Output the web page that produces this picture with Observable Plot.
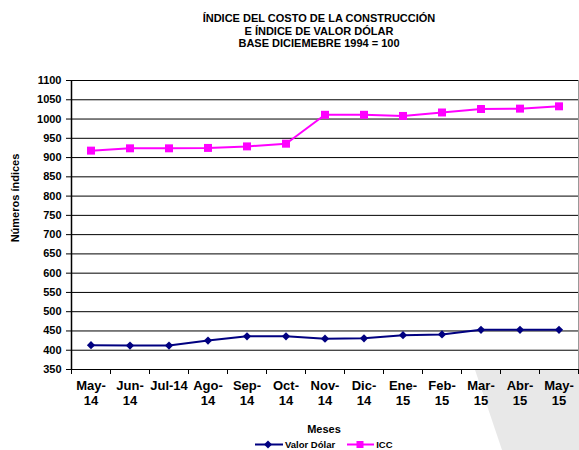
<!DOCTYPE html>
<html>
<head>
<meta charset="utf-8">
<script src="https://cdn.jsdelivr.net/npm/d3@7"></script>
<script src="https://cdn.jsdelivr.net/npm/@observablehq/plot@0.6"></script>
<style>
  body { margin: 0; background: white; font-family: "Liberation Sans", Arial, sans-serif; font-weight: bold; }
  #wrap { position: relative; width: 579px; height: 450px; overflow: hidden; }
  #bg { position: absolute; left: 0; top: 0; z-index: 0; }
  #chart { position: absolute; left: 0; top: 0; z-index: 1; }
  .t { position: absolute; white-space: nowrap; color: #000; }
  #title { left: 0; width: 638px; top: 12px; text-align: center; font-size: 11px; line-height: 12.5px; }
  #ylab { left: 15px; top: 198px; font-size: 11px; transform: translate(-50%, -50%) rotate(-90deg); }
  #xlab { left: 324px; top: 429px; font-size: 11px; transform: translate(-50%, -50%); }
  #legend { left: 255px; top: 444px; transform: translateY(-50%); font-size: 9.5px; line-height: 11px; display: flex; align-items: center; }
  #legend svg { display: block; }
</style>
</head>
<body>
<div id="wrap">
  <svg id="bg" width="579" height="450"><polygon points="470,355 579,355 579,450 502,450" fill="#e8e8e8"/></svg>
  <div id="chart"></div>
  <div class="t" id="title">ÍNDICE DEL COSTO DE LA CONSTRUCCIÓN<br>E ÍNDICE DE VALOR DÓLAR<br>BASE DICIEMEBRE 1994 = 100</div>
  <div class="t" id="ylab">Números índices</div>
  <div class="t" id="xlab">Meses</div>
  <div class="t" id="legend">
    <svg width="28" height="10"><line x1="0" y1="5" x2="28" y2="5" stroke="#000080" stroke-width="2"/><path d="M13,1 L17,5 L13,9 L9,5 Z" fill="#000080"/></svg>
    <span style="margin-left:2px;margin-right:12px">Valor Dólar</span>
    <svg width="27" height="10"><line x1="0" y1="5" x2="27" y2="5" stroke="#FF00FF" stroke-width="2"/><rect x="9.5" y="1.5" width="7" height="7" fill="#FF00FF"/></svg>
    <span style="margin-left:2px">ICC</span>
  </div>
</div>
<script>
const months = ["May-\n14","Jun-\n14","Jul-14","Ago-\n14","Sep-\n14","Oct-\n14","Nov-\n14","Dic-\n14","Ene-\n15","Feb-\n15","Mar-\n15","Abr-\n15","May-\n15"];
const icc = [918, 924, 924, 925, 929, 936, 1011, 1011, 1008, 1017, 1026, 1027, 1033];
const valorDolar = [413, 412, 412, 425, 436, 436, 430, 431, 439, 441, 453, 453, 453];
const yTicks = d3.range(350, 1101, 50);

const rows = [];
months.forEach((m, i) => {
  rows.push({i: i + 0.5, serie: "Valor Dólar", v: valorDolar[i]});
  rows.push({i: i + 0.5, serie: "ICC", v: icc[i]});
});
const ccc = rows.filter(d => d.serie === "ICC");
const usd = rows.filter(d => d.serie === "Valor Dólar");

const plot = Plot.plot({
  width: 579,
  height: 450,
  marginTop: 80,
  marginBottom: 81,
  marginLeft: 71,
  marginRight: 1,
  style: {background: "transparent", fontFamily: "'Liberation Sans', Arial, sans-serif", fontWeight: "bold", color: "black"},
  x: {domain: [0, months.length], axis: null},
  y: {domain: [350, 1100], axis: null},
  marks: [
    Plot.frame({fill: "white", stroke: null}),
    Plot.ruleY(yTicks, {stroke: "black", strokeWidth: 1}),
    Plot.ruleX([months.length], {stroke: "#999", strokeWidth: 1}),
    Plot.ruleX([0], {stroke: "black", strokeWidth: 1.5}),
    Plot.axisY({ticks: yTicks, tickSize: 5, tickPadding: 5, fontSize: 11, tickFormat: d => String(d), label: null, stroke: "black"}),
    Plot.axisX({ticks: d3.range(0, months.length + 1), tickSize: 5, tickFormat: () => "", label: null, stroke: "black"}),
    Plot.axisX({ticks: d3.range(0.5, months.length), tickSize: 0, tickPadding: 10, fontSize: 13, lineHeight: 1.15, tickFormat: d => months[Math.floor(d)], label: null}),
    Plot.line(usd, {x: "i", y: "v", stroke: "#000080", strokeWidth: 2}),
    Plot.dot(usd, {x: "i", y: "v", symbol: "diamond2", r: 3.7, fill: "#000080", stroke: null}),
    Plot.line(ccc, {x: "i", y: "v", stroke: "#FF00FF", strokeWidth: 2}),
    Plot.dot(ccc, {x: "i", y: "v", symbol: "square", r: 4.5, fill: "#FF00FF", stroke: null})
  ]
});
document.getElementById("chart").appendChild(plot);
</script>
</body>
</html>
